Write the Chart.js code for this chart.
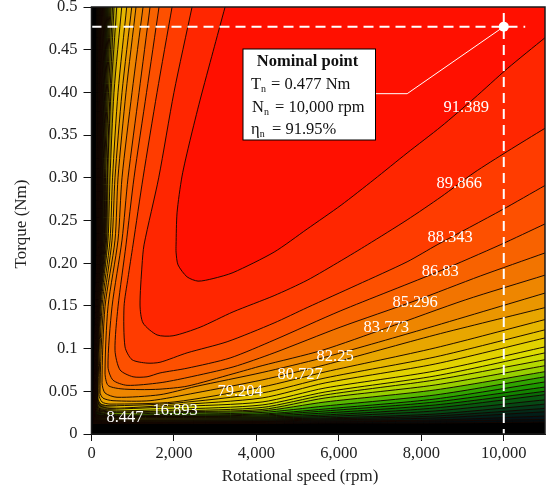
<!DOCTYPE html>
<html><head><meta charset="utf-8">
<style>html,body{margin:0;padding:0;background:#fff}#w{width:548px;height:491px}</style>
<script src="https://cdn.jsdelivr.net/npm/chart.js@4"></script>
</head><body><div id="w"><canvas id="c" width="548" height="491"></canvas></div>
<script>
const xTicks=[0,2000,4000,6000,8000,10000];
const xTickLabels=['0','2,000','4,000','6,000','8,000','10,000'];
const yTickLabels=['0','0.05','0.1','0.15','0.20','0.25','0.30','0.35','0.40','0.45','0.5'];
const xTitle='Rotational speed (rpm)';
const yTitle='Torque (Nm)';
const nominal={speed:10000,torque:0.477};
// contour lines, outermost last: rpm, Nm pairs
const contours=[
[3240,.5,2949,.448,2633,.391,2391,.344,2196,.302,2075,.259,2051,.2215,2051,.213,2099,.198,2318,.184,2585,.179,2949,.182,3434,.189,4429,.213,5230,.240,6055,.268,6855,.298,7655,.329,8480,.360,9280,.393,10090,.428,11000,.464],
[2439,.5,2000,.4,1630,.3,1274,.2215,1226,.198,1177,.151,1250,.130,1590,.116,1978,.115,2633,.125,3434,.143,4429,.162,5230,.180,6055,.203,6690,.2215,7655,.2507,8480,.2777,9280,.306,10090,.331,11000,.358],
[1954,.5,1590,.4,1250,.3,1007,.2215,886,.183,789,.149,813,.102,983,.087,1347,.083,1662,.084,2318,.095,3289,.108,4429,.130,5230,.148,6444,.1746,7655,.2016,8383,.2215,9960,.2625,11000,.291],
[1638,.5,1335,.4,1031,.3,837,.2215,643,.149,570,.098,692,.075,1007,.067,1347,.067,1662,.0715,2318,.077,3361,.089,4429,.110,6030,.144,8458,.191,9913,.2215,11000,.246],
[1420,.5,1153,.4,886,.3,740,.227,498,.149,400,.0785,522,.063,862,.057,1662,.060,2318,.066,3434,.0785,4429,.095,6030,.125,7850,.156,9430,.185,11000,.212],
[1250,.5,983,.4,740,.3,643,.227,400,.149,328,.0715,400,.057,692,.053,1177,.052,1662,.0525,2318,.056,3434,.0705,4138,.080,5594,.098,7150,.124,9065,.157,11000,.186],
[1080,.5,837,.4,643,.3,570,.227,328,.149,255,.060,328,.048,619,.043,1662,.046,2512,.0555,4138,.072,5594,.089,8000,.122,11000,.165],
[976,.5,740,.4,570,.3,498,.227,291,.149,206,.049,279,.042,522,.039,1420,.039,2512,.048,4138,.0633,5667,.081,8337,.116,11000,.148],
[854,.5,643,.4,510,.3,449,.227,255,.149,182,.046,255,.0375,449,.035,2002,.0375,4138,.055,5667,.0727,8337,.1008,11000,.134],
[733,.5,546,.4,449,.3,400,.227,231,.149,158,.042,231,.035,449,.033,2002,.036,4138,.048,5667,.0656,8337,.0902,11000,.122],
[612,.5,473,.4,388,.3,364,.227,206,.149,146,.040,206,.033,449,.030,2002,.034,4138,.0422,5667,.0598,8337,.082,11000,.1125],
[546,.5,449,.4,376,.3,340,.227,194,.149,133,.0375,182,.030,449,.029,2002,.032,4138,.0375,5667,.0539,8337,.0738,11000,.102],
[510,.5,412,.4,340,.3,328,.227,187,.149,129,.035,170,.029,449,.027,2002,.029,4138,.034,5667,.0492,8337,.068,11000,.095],
[473,.5,383,.4,315,.3,311,.227,182,.149,121,.033,158,.028,449,.026,2002,.027,4138,.0311,5667,.0457,8337,.0633,11000,.087],
[449,.5,359,.4,296,.3,299,.227,175,.149,114,.030,146,.027,449,.025,2002,.026,4138,.0287,5667,.0422,8337,.0574,11000,.080],
[425,.5,340,.4,279,.3,284,.227,167,.149,109,.029,133,.026,449,.023,2002,.025,4138,.027,5667,.0375,8337,.0516,11000,.073],
[400,.5,320,.4,265,.3,272,.227,160,.149,102,.027,126,.025,449,.022,2002,.023,4138,.0252,5667,.0328,8337,.0457,11000,.067],
[376,.5,303,.4,250,.3,260,.227,153,.149,97,.026,121,.023,449,.021,2002,.022,4138,.0234,5667,.0293,8337,.041,11000,.061],
[352,.5,286,.4,238,.3,248,.227,146,.149,90,.025,109,.022,2002,.021,4138,.0223,5667,.027,8337,.0375,11000,.055],
[328,.5,269,.4,226,.3,235,.227,138,.149,85,.023,100,.021,2002,.0205,4138,.0211,5667,.0246,8337,.034,11000,.050],
[308,.5,255,.4,216,.3,223,.227,133,.149,80,.022,90,.020,2002,.0194,4138,.0199,5667,.0223,8337,.0305,11000,.046],
[289,.5,240,.4,206,.3,211,.227,129,.149,75,.020,80,.019,2002,.0188,4138,.0188,5667,.0205,8337,.027,11000,.040],
[269,.5,226,.4,197,.3,199,.227,124,.149,70,.019,70,.0176,2002,.0176,4138,.0176,5667,.0188,8337,.0234,11000,.035],
[250,.5,211,.4,187,.3,187,.227,119,.149,66,.018,60,.0164,2002,.0164,4138,.0164,5667,.0176,8337,.0211,11000,.030],
[231,.5,197,.4,175,.3,175,.227,114,.149,61,.016,50,.0152,2002,.0152,4138,.0152,5667,.0164,8337,.0188,11000,.026],
[206,.5,182,.4,163,.3,163,.227,109,.149,56,.015,50,.0141,2002,.0141,4138,.0146,5667,.0152,8337,.0164,11000,.021],
[182,.5,165,.4,150,.3,150,.227,104,.149,51,.014,45,.0135,2002,.0135,4138,.0135,5667,.0141,8337,.0152,11000,.017],
[133,.5,126,.4,119,.3,133,.227,97,.149,46,.013,40,.0123,2002,.0123,4138,.0123,5667,.0129,8337,.0129,11000,.014]
];
const bandColors=['#ff1000','#ff2600','#ff3c00','#fd5000','#f86200','#f27400','#ee8600','#ea9600','#e8a600','#e6b600','#e4c400','#e2d200','#dcdc00','#ccdc00','#b4d800','#98d000','#58b800','#30a400','#1c9800','#128400','#0a6c08','#08580f','#064814','#043818','#032a18','#021e18','#021418','#010c10'];
const contourLabels=[['91.389',9089,.382],['89.866',8919,.293],['88.343',8700,.230],['86.83',8458,.190],['85.296',7851,.1535],['83.773',7148,.124],['82.25',5910,.090],['80.727',5060,.070],['79.204',3604,.050],['16.893',2027,.027],['8.447',813,.019]];
const leaderLine=[{x:6880,y:.3985},{x:7657,y:.3985},{x:10000,y:.477}];

const SERIF='"Liberation Serif"';
const XMAX=11000,YMAX=.5;
const canvas=document.getElementById('c');
function hexRgb(h){return [1,3,5].map(i=>parseInt(h.substr(i,2),16));}
function mix(a,b,t){return a.map((v,i)=>v+(b[i]-v)*t);}
function css(c){return 'rgb('+c.map(Math.round).join(',')+')';}
// low bands fade to a dark olive towards the left edge of the plot
function bandFill(i){
  const c=hexRgb(bandColors[i]);
  if(i<10)return bandColors[i];
  const t=Math.max(0,Math.min(.85,(i-15)/6));
  let base=mix(c,[90,90,0],t);
  if(i>=24)base=mix(base,[0,0,0],.55);
  const k=canvas.getContext('2d').createLinearGradient(95,0,300,0);
  k.addColorStop(0,css(mix(base,[0,0,0],.85)));
  k.addColorStop(.063,css(mix(base,[0,0,0],.45)));
  k.addColorStop(.12,css(base));
  k.addColorStop(.5,css(mix(base,c,.4)));
  k.addColorStop(1,css(c));
  return k;
}
function toPoints(a){
  const p=[];for(let i=0;i<a.length;i+=2)p.push({x:a[i],y:a[i+1]});
  const n=p.length,e=p[n-1],q=p[n-2],k=(e.y-q.y)/(e.x-q.x);
  // run off the plot so the clip hides the closing edge of the filled region
  p.push({x:XMAX+400,y:e.y+k*400},{x:XMAX+400,y:YMAX+.03},{x:p[0].x,y:YMAX+.03});
  return p;
}

const overlayPlugin={id:'overlay',afterDatasetsDraw(ch){
  const {ctx,scales:{x,y},chartArea:a}=ch;
  ctx.save();
  ctx.strokeStyle='#1a1a1a';ctx.lineWidth=1.5;ctx.strokeRect(a.left,a.top,a.right-a.left,a.bottom-a.top);
  ctx.fillStyle='#fff';ctx.textAlign='center';ctx.textBaseline='middle';ctx.font='16.5px '+SERIF;
  for(const [t,vx,vy] of contourLabels)ctx.fillText(t,x.getPixelForValue(vx),y.getPixelForValue(vy));
  ctx.fillStyle='#fff';ctx.strokeStyle='#000';ctx.lineWidth=1;
  ctx.fillRect(243,49,132.5,91);ctx.strokeRect(243,49,132.5,91);
  ctx.fillStyle='#111';ctx.textBaseline='alphabetic';ctx.textAlign='center';
  ctx.font='bold 16.5px '+SERIF;ctx.fillText('Nominal point',307.5,66);
  ctx.textAlign='left';
  const rows=[['T','n','= 0.477 Nm',251,89,271],['N','n','= 10,000 rpm',252,112,275],['η','n','= 91.95%',251,134,272]];
  for(const [s,b,t,px,py,tx] of rows){
    ctx.font='16.5px '+SERIF;ctx.fillText(s,px,py);
    const w=ctx.measureText(s).width;
    ctx.font='10px '+SERIF;ctx.fillText(b,px+w,py+3);
    ctx.font='16.5px '+SERIF;ctx.fillText(t,tx,py);
  }
  ctx.fillStyle='#222';ctx.textAlign='center';ctx.textBaseline='middle';ctx.font='17px '+SERIF;
  ctx.fillText(xTitle,300,477);
  ctx.translate(22,224);ctx.rotate(-Math.PI/2);ctx.fillText(yTitle,0,0);
  ctx.restore();
}};

const datasets=[
 {data:[{x:nominal.speed,y:nominal.torque}],showLine:false,pointRadius:5,pointBackgroundColor:'#fff',pointBorderColor:'#fff',pointBorderWidth:0},
 {data:leaderLine,showLine:true,borderColor:'#fff',borderWidth:1,pointRadius:0,fill:false},
 {data:[{x:0,y:nominal.torque},{x:10520,y:nominal.torque}],showLine:true,borderColor:'#fff',borderWidth:2,borderDash:[10,6],pointRadius:0,fill:false},
 {data:[{x:nominal.speed,y:.493},{x:nominal.speed,y:0}],showLine:true,borderColor:'#fff',borderWidth:2,borderDash:[10,6],pointRadius:0,fill:false}
];
contours.forEach((c,i)=>datasets.push({data:toPoints(c),showLine:true,fill:'shape',backgroundColor:bandFill(i),borderColor:'rgba(20,6,0,.95)',borderWidth:1,pointRadius:0,tension:.25,capBezierPoints:false}));
datasets.push({data:[{x:0,y:0},{x:XMAX,y:0},{x:XMAX,y:YMAX},{x:0,y:YMAX}],showLine:true,fill:'shape',backgroundColor:'#000',borderColor:'#000',borderWidth:0,pointRadius:0});

new Chart(canvas,{
 type:'scatter',
 data:{datasets},
 plugins:[overlayPlugin],
 options:{
  responsive:false,animation:false,
  layout:{autoPadding:false,padding:{top:7,right:3,left:0,bottom:0}},
  plugins:{legend:{display:false},tooltip:{enabled:false}},
  scales:{
   x:{type:'linear',min:0,max:XMAX,
      afterBuildTicks(s){s.ticks=xTicks.map(v=>({value:v}));},
      afterFit(s){s.height=57;s.paddingLeft=0;s.paddingRight=0;},
      ticks:{autoSkip:false,maxRotation:0,padding:3,color:'#222',font:{family:SERIF,size:16.5},callback:v=>xTickLabels[xTicks.indexOf(v)]},
      grid:{drawOnChartArea:false,drawTicks:true,tickLength:7,color:'#111',lineWidth:1},
      border:{color:'#111'}},
   y:{type:'linear',min:0,max:YMAX,
      afterBuildTicks(s){s.ticks=yTickLabels.map((_,i)=>({value:i*.05}));},
      afterFit(s){s.width=91.5;s.paddingTop=0;s.paddingBottom=0;},
      ticks:{autoSkip:false,padding:6,color:'#222',font:{family:SERIF,size:16.5},callback:(v,i)=>yTickLabels[i]},
      grid:{drawOnChartArea:false,drawTicks:true,tickLength:8,color:'#111',lineWidth:1},
      border:{color:'#111'}}
  }
 }
});
</script></body></html>
